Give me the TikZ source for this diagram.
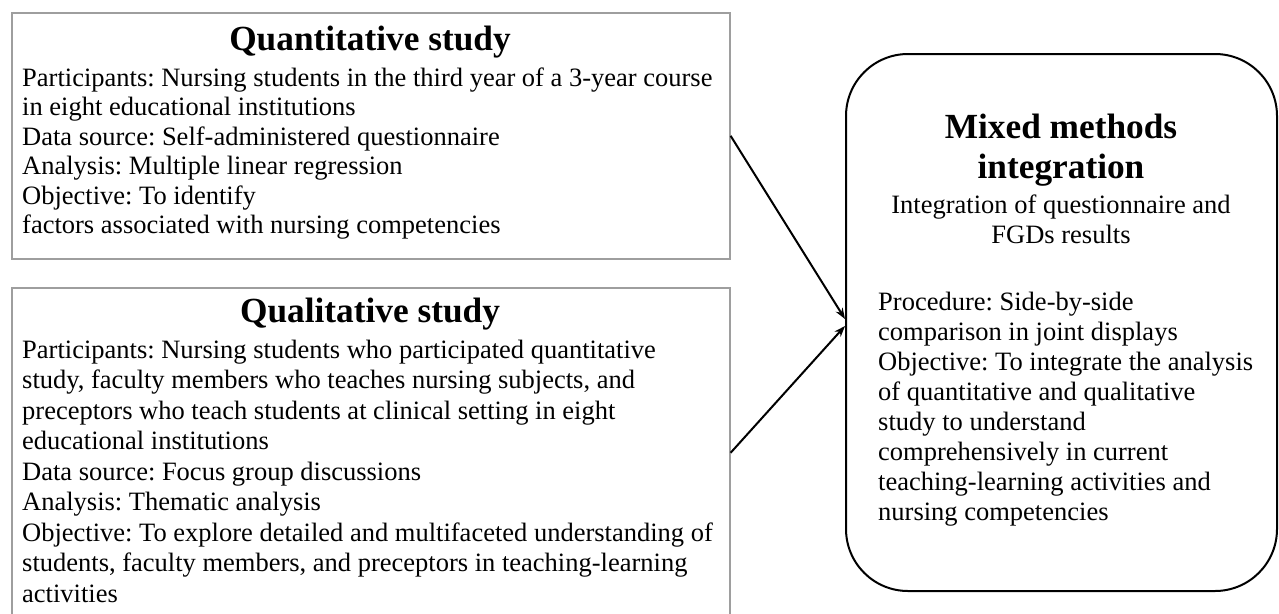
\documentclass[tikz,border=0pt]{standalone}
\usepackage{fontspec}
\setmainfont{Liberation Serif}
\usetikzlibrary{arrows.meta}
\frenchspacing
\tikzset{
  body/.style={font=\fontsize{26.5}{30.5}\selectfont, inner sep=0pt, anchor=base west},
  bodyc/.style={font=\fontsize{26.5}{30.5}\selectfont, inner sep=0pt, anchor=base},
  ttl/.style={font=\fontsize{35.3}{40.6}\selectfont\bfseries, inner sep=0pt, anchor=base},
  graybox/.style={draw=black!38, line width=1.6pt, inner sep=0pt, anchor=north west},
  roundbox/.style={draw=black, line width=2pt, rounded corners=62pt, inner sep=0pt, anchor=north west},
  conn/.style={draw=black, line width=2pt, -{Stealth[length=11pt,width=8pt]}}
}
\begin{document}
\begin{tikzpicture}[x=1pt,y=-1pt]
\useasboundingbox[fill=white] (0,0) rectangle (1279,613);
% boxes
\node[graybox, minimum width=718pt, minimum height=246pt] (quant) at (11,12) {};
\node[graybox, minimum width=718pt, minimum height=330pt] (qual) at (11,287) {};
\node[roundbox, minimum width=431pt, minimum height=537pt] (mix) at (845,53) {};
% quantitative text
\node[ttl] (quantT) at (370,50) {Quantitative study};
\foreach \t [count=\i] in {
  {Participants: Nursing students in the third year of a 3-year course},
  {in eight educational institutions},
  {Data source: Self-administered questionnaire},
  {Analysis: Multiple linear regression},
  {Objective: To identify},
  {factors associated with nursing competencies}}
  \node[body] (quantL\i) at (22,{86+29.5*(\i-1)}) {\t};
% qualitative text
\node[ttl] (qualT) at (370,322) {Qualitative study};
\foreach \t [count=\i] in {
  {Participants: Nursing students who participated quantitative},
  {study, faculty members who teaches nursing subjects, and},
  {preceptors who teach students at clinical setting in eight},
  {educational institutions},
  {Data source: Focus group discussions},
  {Analysis: Thematic analysis},
  {Objective: To explore detailed and multifaceted understanding of},
  {students, faculty members, and preceptors in teaching-learning},
  {activities}}
  \node[body] (qualL\i) at (22,{358+30.5*(\i-1)}) {\t};
% mixed methods text
\node[ttl] (mixT1) at (1061,138) {Mixed methods};
\node[ttl] (mixT2) at (1061,178) {integration};
\node[bodyc] (mixS1) at (1061,213) {Integration of questionnaire and};
\node[bodyc] (mixS2) at (1061,243) {FGDs results};
\foreach \t [count=\i] in {
  {Procedure: Side-by-side},
  {comparison in joint displays},
  {Objective: To integrate the analysis},
  {of quantitative and qualitative},
  {study to understand},
  {comprehensively in current},
  {teaching-learning activities and},
  {nursing competencies}}
  \node[body] (mixL\i) at (878,{310+30*(\i-1)}) {\t};
% connectors
\draw[conn] (quant.east) -- ([yshift=3.5pt]mix.west);
\draw[conn] (qual.east) -- ([yshift=-3.5pt]mix.west);
\end{tikzpicture}
\end{document}
